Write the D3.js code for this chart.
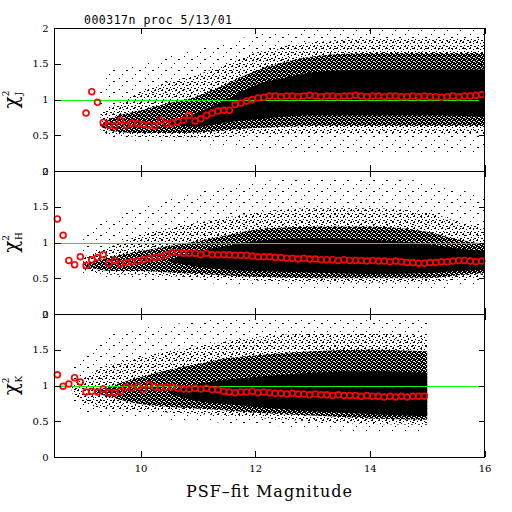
<!DOCTYPE html>
<html>
<head>
<meta charset="utf-8">
<script src="https://cdn.jsdelivr.net/npm/d3@7"></script>
<style>
  html, body { margin: 0; padding: 0; background: #fff; }
  svg { display: block; }
  .tick text { font-family: "DejaVu Serif", serif; font-size: 10px; fill: #000; }
</style>
</head>
<body>
<svg id="chart" width="512" height="512"></svg>
<script>
// bin centres of the red median points (PSF-fit magnitude)
const magBins = [8.55, 8.65, 8.75, 8.85, 8.95, 9.05, 9.15, 9.25, 9.35, 9.45, 9.55, 9.65, 9.75, 9.85, 9.95,
  10.05, 10.15, 10.25, 10.35, 10.45, 10.55, 10.65, 10.75, 10.85, 10.95, 11.05, 11.15, 11.25, 11.35, 11.45,
  11.55, 11.65, 11.75, 11.85, 11.95, 12.05, 12.15, 12.25, 12.35, 12.45, 12.55, 12.65, 12.75, 12.85, 12.95,
  13.05, 13.15, 13.25, 13.35, 13.45, 13.55, 13.65, 13.75, 13.85, 13.95, 14.05, 14.15, 14.25, 14.35, 14.45,
  14.55, 14.65, 14.75, 14.85, 14.95, 15.05, 15.15, 15.25, 15.35, 15.45, 15.55, 15.65, 15.75, 15.85, 15.95];

const chiJ = [null, null, null, null, null,
  0.81, 1.11, 0.96, 0.68, 0.64, 0.63, 0.71, 0.64, 0.67, 0.66,
  0.65, 0.64, 0.63, 0.71, 0.66, 0.67, 0.69, 0.71, 0.78, 0.70,
  0.73, 0.78, 0.81, 0.84, 0.85, 0.85, 0.93, 0.95, 0.98, 1.00,
  1.02, 1.03, 1.05,
  1.05, 1.04, 1.05, 1.05, 1.04, 1.05, 1.06, 1.05, 1.04, 1.05,
  1.05, 1.04, 1.05, 1.05, 1.06, 1.05, 1.04, 1.05, 1.05, 1.04,
  1.05, 1.05, 1.04, 1.04, 1.05, 1.04, 1.05, 1.04, 1.04, 1.03,
  1.04, 1.05, 1.04, 1.05, 1.05, 1.06, 1.07];

const chiH = [1.33, 1.10, 0.75, 0.69, 0.80,
  0.68, 0.76, 0.79, 0.83, 0.71, 0.75, 0.70, 0.72, 0.73, 0.74,
  0.76, 0.78, 0.79, 0.80, 0.83, 0.86, 0.86, 0.85, 0.85, 0.85,
  0.83, 0.85, 0.83, 0.83, 0.83, 0.83, 0.82, 0.82, 0.82, 0.81,
  0.80, 0.80, 0.80,
  0.79, 0.79, 0.78, 0.78, 0.77, 0.78, 0.77, 0.77, 0.76, 0.76,
  0.76, 0.75, 0.76, 0.75, 0.75, 0.75, 0.74, 0.75, 0.74, 0.74,
  0.73, 0.74, 0.73, 0.72, 0.72, 0.71, 0.71, 0.72, 0.72, 0.73,
  0.73, 0.74, 0.75, 0.75, 0.74, 0.73, 0.74];

const chiK = [1.15, 0.99, 1.02, 1.11, 1.05,
  0.91, 0.92, 0.91, 0.95, 0.90, 0.90, 0.92, 0.98, 0.96, 0.99,
  0.94, 1.01, 0.98, 0.97, 0.98, 0.98, 0.96, 0.95, 0.95, 0.96,
  0.95, 0.96, 0.94, 0.94, 0.92, 0.91, 0.90, 0.91, 0.91, 0.92,
  0.90, 0.91, 0.90,
  0.89, 0.89, 0.88, 0.89, 0.88, 0.88, 0.87, 0.88, 0.87, 0.87,
  0.86, 0.87, 0.86, 0.86, 0.86, 0.85, 0.86, 0.85, 0.85, 0.84,
  0.85, 0.84, 0.85, 0.84, 0.85, 0.85, 0.85,
  null, null, null, null, null, null, null, null, null, null];

// envelopes of the individual-star clouds, from faint outliers to the solid core
const jCloudMag = [9.3, 9.5, 10, 10.5, 11, 11.5, 12, 12.5, 13, 14, 15, 16];
const jOuterLo = [0.55, 0.45, 0.42, 0.40, 0.38, 0.35, 0.30, 0.28, 0.25, 0.25, 0.25, 0.25];
const jOuterHi = [1.15, 1.40, 1.50, 1.60, 1.70, 1.80, 1.90, 1.95, 1.98, 1.98, 1.98, 1.98];
const jSparseLo = [0.58, 0.50, 0.48, 0.47, 0.47, 0.48, 0.50, 0.52, 0.53, 0.53, 0.53, 0.53];
const jSparseHi = [0.82, 0.90, 1.10, 1.25, 1.35, 1.50, 1.65, 1.75, 1.80, 1.85, 1.85, 1.85];
const jDenseLo = [0.63, 0.56, 0.53, 0.53, 0.54, 0.57, 0.60, 0.62, 0.63, 0.63, 0.63, 0.63];
const jDenseHi = [0.65, 0.74, 0.85, 0.95, 1.05, 1.22, 1.40, 1.52, 1.60, 1.65, 1.65, 1.65];
const jCoreLo = [null, null, null, 0.65, 0.62, 0.68, 0.72, 0.76, 0.78, 0.78, 0.78, 0.76];
const jCoreHi = [null, null, null, 0.67, 0.82, 1.00, 1.20, 1.30, 1.38, 1.42, 1.42, 1.42];

const hCloudMag = [9.0, 9.5, 10, 10.5, 11, 11.5, 12, 13, 14, 15, 15.5, 16];
const hOuterLo = [0.55, 0.50, 0.48, 0.46, 0.44, 0.42, 0.40, 0.35, 0.35, 0.35, 0.38, 0.42];
const hOuterHi = [1.10, 1.35, 1.50, 1.60, 1.70, 1.80, 1.85, 1.90, 1.90, 1.85, 1.75, 1.65];
const hSparseLo = [0.62, 0.55, 0.55, 0.53, 0.51, 0.49, 0.47, 0.45, 0.44, 0.45, 0.48, 0.52];
const hSparseHi = [0.80, 0.95, 1.10, 1.20, 1.28, 1.35, 1.42, 1.48, 1.48, 1.42, 1.30, 1.20];
const hDenseLo = [0.67, 0.60, 0.60, 0.58, 0.56, 0.54, 0.52, 0.50, 0.50, 0.50, 0.54, 0.57];
const hDenseHi = [0.69, 0.80, 0.88, 0.95, 1.02, 1.10, 1.18, 1.22, 1.22, 1.15, 1.05, 0.98];
const hCoreLo = [null, null, null, 0.73, 0.66, 0.62, 0.60, 0.58, 0.56, 0.57, 0.60, 0.62];
const hCoreHi = [null, null, null, 0.75, 0.88, 0.95, 1.02, 1.06, 1.04, 0.98, 0.92, 0.88];

const kCloudMag = [8.8, 9.2, 10, 10.5, 11, 11.5, 12, 13, 14, 15];
const kOuterLo = [0.70, 0.60, 0.55, 0.52, 0.50, 0.48, 0.45, 0.40, 0.35, 0.35];
const kOuterHi = [1.30, 1.60, 1.80, 1.85, 1.90, 1.95, 1.95, 1.95, 1.95, 1.95];
const kSparseLo = [0.90, 0.70, 0.65, 0.62, 0.60, 0.58, 0.55, 0.50, 0.46, 0.45];
const kSparseHi = [1.00, 1.20, 1.40, 1.48, 1.55, 1.62, 1.68, 1.72, 1.72, 1.70];
const kDenseLo = [null, 0.90, 0.74, 0.70, 0.68, 0.65, 0.62, 0.58, 0.54, 0.52];
const kDenseHi = [null, 0.92, 1.12, 1.22, 1.30, 1.38, 1.42, 1.48, 1.50, 1.48];
const kCoreLo = [null, null, null, 0.89, 0.78, 0.74, 0.70, 0.64, 0.60, 0.57];
const kCoreHi = [null, null, null, 0.91, 1.02, 1.08, 1.12, 1.18, 1.20, 1.18];

const yMajorTicks = [0, 0.5, 1, 1.5, 2];
const xLabelTicks = [10, 12, 14, 16];
const bandNames = ['J', 'H', 'K'];

const panels = [
  { chi: chiJ, cm: jCloudMag, env: [[jOuterLo, jOuterHi], [jSparseLo, jSparseHi], [jDenseLo, jDenseHi], [jCoreLo, jCoreHi]] },
  { chi: chiH, cm: hCloudMag, env: [[hOuterLo, hOuterHi], [hSparseLo, hSparseHi], [hDenseLo, hDenseHi], [hCoreLo, hCoreHi]] },
  { chi: chiK, cm: kCloudMag, env: [[kOuterLo, kOuterHi], [kSparseLo, kSparseHi], [kDenseLo, kDenseHi], [kCoreLo, kCoreHi]] }
];
const fills = ['url(#outer)', 'url(#sparse)', 'url(#dense)', '#000'];

const svg = d3.select('#chart');
const left = 54.5, right = 484.5, top0 = 28, panelH = 143;

const x = d3.scaleLinear().domain([8.5, 16]).range([left, right]);
const xMinor = d3.range(8.5, 16.01, 0.5);
const yMinor = d3.range(0, 2.001, 0.1);

// stipple patterns for the star clouds
const defs = svg.append('defs');
function stipple(id, w, h, dots, bg, dotColor) {
  const pat = defs.append('pattern').attr('id', id)
    .attr('patternUnits', 'userSpaceOnUse').attr('width', w).attr('height', h);
  if (bg) pat.append('rect').attr('width', w).attr('height', h).attr('fill', bg);
  dots.forEach(p => pat.append('rect').attr('x', p[0]).attr('y', p[1])
    .attr('width', p[2] || 1).attr('height', 1).attr('fill', dotColor));
}
stipple('outer', 13, 11, [[2, 1], [9, 4, 2], [5, 8]], null, '#000');
stipple('sparse', 7, 6, [[0, 0, 2], [4, 1], [2, 3], [5, 4, 2], [1, 5]], null, '#000');
stipple('dense', 5, 4, [[1, 0], [3, 1, 2], [0, 2], [2, 3]], '#000', '#fff');

panels.forEach((p, i) => {
  const y0 = top0 + i * panelH;
  const y = d3.scaleLinear().domain([0, 2]).range([y0 + panelH, y0]);
  const g = svg.append('g');

  const clipId = 'clip' + i;
  defs.append('clipPath').attr('id', clipId).append('rect')
    .attr('x', left).attr('y', y0).attr('width', right - left).attr('height', panelH);

  const cloud = g.append('g').attr('clip-path', `url(#${clipId})`);
  p.env.forEach((e, k) => {
    const rows = p.cm.map((m, j) => ({ m, lo: e[0][j], hi: e[1][j] }));
    const area = d3.area()
      .defined(d => d.lo != null)
      .x(d => x(d.m)).y0(d => y(d.lo)).y1(d => y(d.hi))
      .curve(d3.curveMonotoneX);
    cloud.append('path').attr('d', area(rows)).attr('fill', fills[k]);
  });

  // chi^2 = 1 reference
  g.append('line')
    .attr('x1', left).attr('x2', right)
    .attr('y1', Math.round(y(1)) + 0.5).attr('y2', Math.round(y(1)) + 0.5)
    .attr('stroke', '#00ff00').attr('stroke-width', 1);

  // binned medians
  g.selectAll('circle.med')
    .data(magBins.map((m, j) => ({ m, v: p.chi[j] })).filter(d => d.v != null))
    .enter().append('circle')
    .attr('class', 'med')
    .attr('cx', d => x(d.m)).attr('cy', d => y(d.v))
    .attr('r', 2.9)
    .attr('fill', 'none').attr('stroke', '#ff0000').attr('stroke-width', 1.7);

  // frame
  g.append('rect').attr('x', left).attr('y', y0 + 0.5)
    .attr('width', right - left).attr('height', panelH)
    .attr('fill', 'none').attr('stroke', '#000').attr('stroke-width', 1)
    .attr('shape-rendering', 'crispEdges');

  // y axes, ticks pointing inward
  const yl = g.append('g').attr('transform', `translate(${left},0)`);
  yl.call(d3.axisLeft(y).tickValues(yMinor).tickSizeInner(-3).tickSizeOuter(0).tickFormat(''));
  yl.call(d3.axisLeft(y).tickValues(yMajorTicks).tickSizeInner(-6).tickSizeOuter(0).tickPadding(6)
    .tickFormat(d => d3.format('')(d)));
  const yr = g.append('g').attr('transform', `translate(${right},0)`);
  yr.call(d3.axisRight(y).tickValues(yMinor).tickSizeInner(-3).tickSizeOuter(0).tickFormat(''));
  yr.call(d3.axisRight(y).tickValues(yMajorTicks).tickSizeInner(-6).tickSizeOuter(0).tickFormat(''));

  // x ticks, top and bottom of every panel
  const xt = g.append('g').attr('transform', `translate(0,${y0})`);
  xt.call(d3.axisTop(x).tickValues(xMinor).tickSizeInner(-3).tickSizeOuter(0).tickFormat(''));
  xt.call(d3.axisTop(x).tickValues(xLabelTicks).tickSizeInner(-6).tickSizeOuter(0).tickFormat(''));
  const xb = g.append('g').attr('transform', `translate(0,${y0 + panelH})`);
  xb.call(d3.axisBottom(x).tickValues(xMinor).tickSizeInner(-3).tickSizeOuter(0).tickFormat(''));
  xb.call(d3.axisBottom(x).tickValues(xLabelTicks).tickSizeInner(-6).tickSizeOuter(0).tickPadding(8)
    .tickFormat(i === 2 ? d3.format('') : ''));

  g.selectAll('.domain').remove();
  g.selectAll('.tick line').attr('stroke', '#000').attr('shape-rendering', 'crispEdges');

  // y label: chi^2 with band subscript
  const lab = g.append('text')
    .attr('transform', `translate(18,${y(1)}) rotate(-90)`)
    .attr('text-anchor', 'middle')
    .attr('font-family', '"DejaVu Serif", serif')
    .attr('fill', '#000');
  lab.append('tspan').attr('font-size', 20).text('χ');
  lab.append('tspan').attr('font-size', 9).attr('dy', -9).text('2');
  lab.append('tspan').attr('font-size', 9).attr('dx', -5).attr('dy', 13).text(bandNames[i]);
});

svg.append('text')
  .attr('x', 84).attr('y', 24)
  .attr('font-family', '"DejaVu Sans Mono", monospace')
  .attr('font-size', 11.5)
  .attr('textLength', 148)
  .text('000317n proc 5/13/01');

svg.append('text')
  .attr('x', 269).attr('y', 497)
  .attr('text-anchor', 'middle')
  .attr('font-family', '"DejaVu Serif", serif')
  .attr('font-size', 16)
  .attr('textLength', 166)
  .text('PSF–fit Magnitude');
</script>
</body>
</html>
